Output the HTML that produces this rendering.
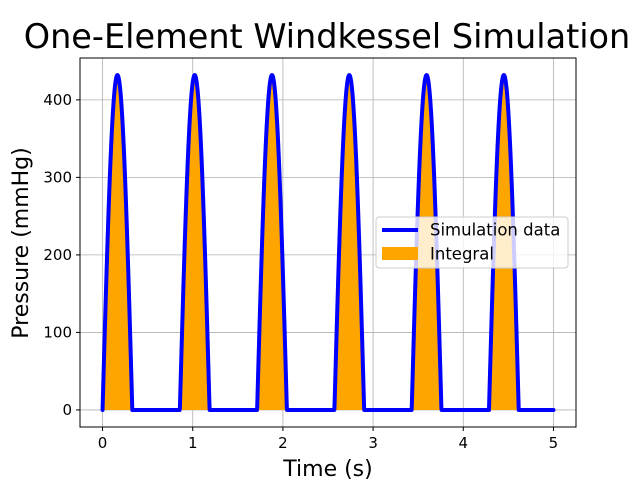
<!DOCTYPE html>
<html><head><meta charset="utf-8"><style>
body{margin:0;background:#fff;font-family:"Liberation Sans","DejaVu Sans",sans-serif}
svg text{font-family:"DejaVu Sans","Liberation Sans",sans-serif}
</style></head><body>
<svg id="c" width="640" height="480"></svg>
<script>
const beatStarts=[0,0.857,1.714,2.571,3.428,4.285];
const peakValues=[432,432,432,432,432,432];
const systoleDuration=0.33;
const tEnd=5;
const xTicks=[0,1,2,3,4,5];
const yTicks=[0,100,200,300,400];

const L=80,R=576,T=58,B=427;
const xMin=-0.25,xMax=5.25,yMin=-22,yMax=454;
const X=v=>L+(v-xMin)/(xMax-xMin)*(R-L);
const Y=v=>B-(v-yMin)/(yMax-yMin)*(B-T);
const NS="http://www.w3.org/2000/svg";
const svg=document.getElementById('c');
function mk(t,a,p){const e=document.createElementNS(NS,t);for(const k in a)e.setAttribute(k,a[k]);(p||svg).appendChild(e);return e;}

xTicks.forEach(v=>{const g=mk('line',{x1:X(v),x2:X(v),y1:T,y2:B,stroke:'#b0b0b0','stroke-width':0.8});

});
yTicks.forEach(v=>{const g=mk('line',{x1:L,x2:R,y1:Y(v),y2:Y(v),stroke:'#b0b0b0','stroke-width':0.8});

});

function P(t){for(let i=0;i<beatStarts.length;i++){const d=t-beatStarts[i];if(d>=0&&d<=systoleDuration)return peakValues[i]*Math.sin(Math.PI*d/systoleDuration);}return 0;}
const N=2000;const pts=[];for(let i=0;i<=N;i++){const t=tEnd*i/N;pts.push([t,P(t)]);}
beatStarts.forEach((s,i)=>{let d=`M${X(s)},${Y(0)}`;for(let k=0;k<=60;k++){const t=s+systoleDuration*k/60;d+=`L${X(t)},${Y(P(Math.min(t,s+systoleDuration-1e-9)))}`;}d+=`L${X(s+systoleDuration)},${Y(0)}Z`;
const f=mk('path',{d:d,fill:'#ffa500'});

});
const line=mk('path',{d:'M'+pts.map(p=>X(p[0])+','+Y(p[1])).join('L'),fill:'none',stroke:'#0000ff','stroke-width':4,'stroke-linejoin':'round','stroke-linecap':'round'});



const fr=mk('rect',{x:L,y:T,width:R-L,height:B-T,fill:'none',stroke:'#000','stroke-width':1});


xTicks.forEach(v=>{mk('line',{x1:X(v),x2:X(v),y1:B,y2:B+4,stroke:'#000'});
const t=mk('text',{x:X(v),y:B+21,'text-anchor':'middle','font-size':15});t.textContent=v;

});
yTicks.forEach(v=>{mk('line',{x1:L-4,x2:L,y1:Y(v),y2:Y(v),stroke:'#000'});
const t=mk('text',{x:L-8,y:Y(v)+5,'text-anchor':'end','font-size':15});t.textContent=v;

});
</script>
<svg width="640" height="480" style="position:absolute;left:0;top:0">
<text x="327" y="48" text-anchor="middle" font-size="33.5">One-Element Windkessel Simulation</text>
<text x="328" y="476" text-anchor="middle" font-size="22">Time (s)</text>
<text transform="translate(28,243) rotate(-90)" text-anchor="middle" font-size="22">Pressure (mmHg)</text>
<g>
<rect x="376" y="217" width="192" height="51" rx="3" fill="#fff" fill-opacity="0.8" stroke="#ccc"/>
<line x1="382" y1="230" x2="418" y2="230" stroke="#0000ff" stroke-width="4"/>
<text x="430" y="235.5" font-size="16.5">Simulation data</text>
<rect x="382" y="247" width="36" height="13" fill="#ffa500"/>
<text x="430" y="259.5" font-size="16.5">Integral</text>
</g>
</svg>
</body></html>
